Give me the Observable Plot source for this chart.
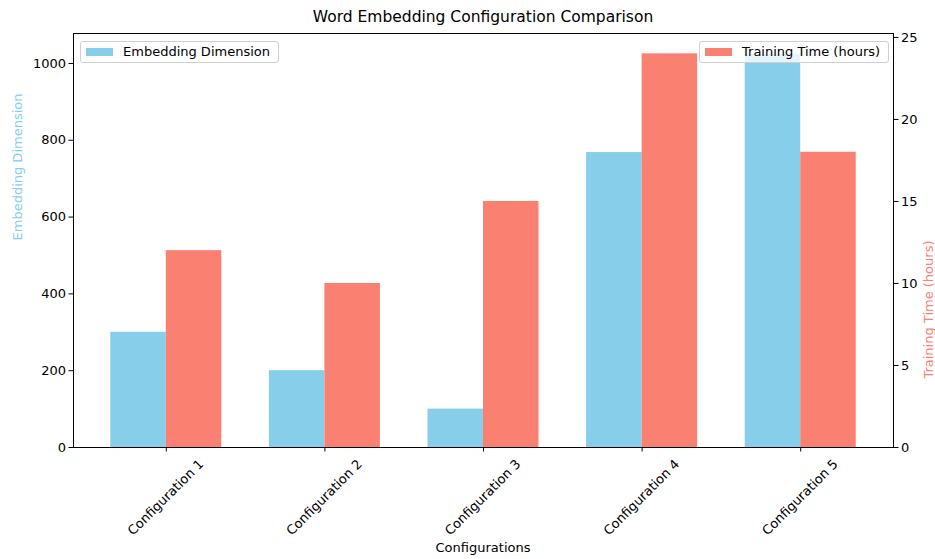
<!DOCTYPE html>
<html>
<head>
<meta charset="utf-8">
<script src="https://cdn.jsdelivr.net/npm/d3@7"></script>
<script src="https://cdn.jsdelivr.net/npm/@observablehq/plot@0.6"></script>
<style>
  html, body { margin: 0; padding: 0; background: #fff; }
  #wrap { position: relative; width: 935px; height: 559px; font-family: "DejaVu Sans", sans-serif; overflow: hidden; }
  #wrap svg { position: absolute; left: 0; top: 0; }
  .title { position: absolute; top: 8px; left: 73px; width: 820px; text-align: center; font-size: 15.5px; color: #000; }
  .xlabel { position: absolute; top: 540px; left: 73px; width: 820px; text-align: center; font-size: 13px; color: #000; }
  .legend { position: absolute; top: 41px; height: 22px; border: 1px solid #d0d0d0; border-radius: 3px; background: rgba(255,255,255,0.8); font-size: 13px; color: #000; box-sizing: border-box; z-index: 5; }
  .legend .sw { position: absolute; top: 6px; width: 27px; height: 8px; }
  .legend .tx { position: absolute; top: 2px; white-space: nowrap; }
</style>
</head>
<body>
<div id="wrap">
  <div class="title">Word Embedding Configuration Comparison</div>
  <div class="xlabel">Configurations</div>
</div>
<script>
const configs = ["Configuration 1", "Configuration 2", "Configuration 3", "Configuration 4", "Configuration 5"];
const embeddingDim = [300, 200, 100, 768, 1024];
const trainingHours = [12, 10, 15, 24, 18];
const leftTicks = [0, 200, 400, 600, 800, 1000];
const rightTicks = [0, 5, 10, 15, 20, 25];

const W = 0.35;
const BLUE = "#87CEEB";
const SALMON = "#FA8072";
const rows = configs.map((c, i) => ({i, config: c, emb: embeddingDim[i], hrs: trainingHours[i]}));
const xTicks = configs.map((c, i) => i);

const common = {
  width: 935,
  height: 559,
  marginTop: 33,
  marginBottom: 112,
  marginLeft: 73,
  marginRight: 42,
  style: {background: "transparent", fontFamily: "DejaVu Sans, sans-serif", fontSize: "13px", color: "#000", overflow: "visible"}
};

const left = Plot.plot({
  ...common,
  x: {type: "linear", domain: [-0.585, 4.585]},
  y: {domain: [0, 1078]},
  marks: [
    Plot.rectY(rows, {x1: d => d.i - W, x2: d => d.i, y1: 0, y2: "emb", fill: BLUE}),
    Plot.axisY({ticks: leftTicks, tickFormat: d => String(d), tickSize: 4.5, tickPadding: 3, label: null, anchor: "left", fontSize: 13}),
    Plot.axisX({ticks: xTicks, tickFormat: () => "", tickSize: 4.5, label: null, anchor: "bottom"}),
    Plot.axisX({ticks: xTicks, tickFormat: i => configs[i], tickSize: 0, tickPadding: 3, tickRotate: -45, label: null, anchor: "bottom", fontSize: 13, dx: 35, dy: 11.5}),
    Plot.text(["Embedding Dimension"], {frameAnchor: "left", dx: -56, rotate: -90, fill: BLUE, fontSize: 13})
  ]
});

const right = Plot.plot({
  ...common,
  x: {type: "linear", domain: [-0.585, 4.585], axis: null},
  y: {domain: [0, 25.24]},
  marks: [
    Plot.rectY(rows, {x1: d => d.i, x2: d => d.i + W, y1: 0, y2: "hrs", fill: SALMON}),
    Plot.axisY({ticks: rightTicks, tickFormat: d => String(d), tickSize: 4.5, tickPadding: 3, label: null, anchor: "right", fontSize: 13}),
    Plot.text(["Training Time (hours)"], {frameAnchor: "right", dx: 35, rotate: -90, fill: SALMON, fontSize: 13}),
    Plot.frame({stroke: "#000", strokeWidth: 1})
  ]
});

const wrap = document.getElementById("wrap");
wrap.appendChild(left);
wrap.appendChild(right);

function legend(label, color, leftPx, widthPx, swLeft, txLeft) {
  const d = document.createElement("div");
  d.className = "legend";
  d.style.left = leftPx + "px";
  d.style.width = widthPx + "px";
  const sw = document.createElement("div");
  sw.className = "sw";
  sw.style.left = swLeft + "px";
  sw.style.background = color;
  const tx = document.createElement("div");
  tx.className = "tx";
  tx.style.left = txLeft + "px";
  tx.textContent = label;
  d.appendChild(sw);
  d.appendChild(tx);
  wrap.appendChild(d);
}
legend("Embedding Dimension", BLUE, 80, 199, 5, 42);
legend("Training Time (hours)", SALMON, 699, 190, 5, 42);
</script>
</body>
</html>
